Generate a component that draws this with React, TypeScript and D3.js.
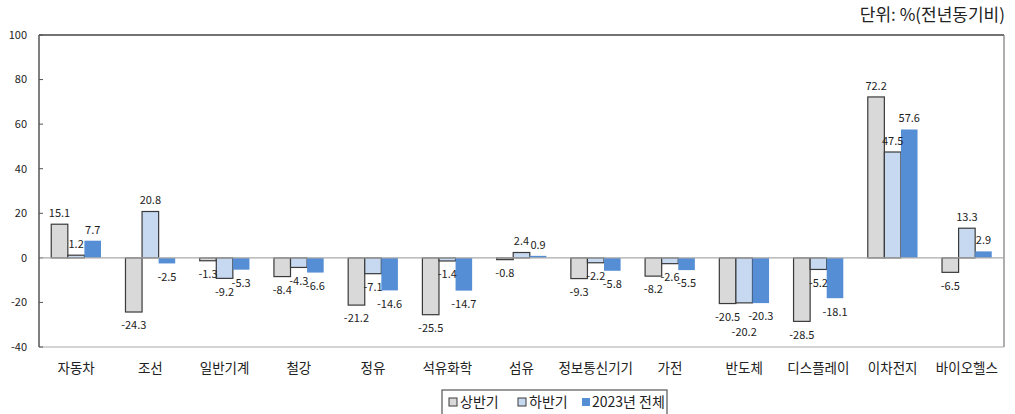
import React from "react";
import * as d3 from "d3";

const categories = ["자동차", "조선", "일반기계", "철강", "정유", "석유화학", "섬유", "정보통신기기", "가전", "반도체", "디스플레이", "이차전지", "바이오헬스"];
const firstHalf = [15.1, -24.3, -1.3, -8.4, -21.2, -25.5, -0.8, -9.3, -8.2, -20.5, -28.5, 72.2, -6.5];
const secondHalf = [1.2, 20.8, -9.2, -4.3, -7.1, -1.4, 2.4, -2.2, -2.6, -20.2, -5.2, 47.5, 13.3];
const fullYear = [7.7, -2.5, -5.3, -6.6, -14.6, -14.7, 0.9, -5.8, -5.5, -20.3, -18.1, 57.6, 2.9];
const seriesNames = ["상반기", "하반기", "2023년 전체"];
const yTicks = [-40, -20, 0, 20, 40, 60, 80, 100];

const W = 1015, H = 414;
const M = { left: 39, right: 1004, top: 35, bottom: 347 };
const FONT = "'Noto Sans CJK KR', 'Noto Sans', sans-serif";

const fills = ["#d9d9d9", "#c6d9f1", "#558ed5"];
const strokes = ["#3a3a3a", "#3a3a3a", "none"];

export default function App() {
  const x = d3.scaleBand<string>().domain(categories).range([M.left, M.right]).paddingInner(0.33).paddingOuter(0.165);
  const xs = d3.scaleBand<number>().domain([0, 1, 2]).range([0, x.bandwidth()]);
  const y = d3.scaleLinear().domain([-40, 100]).range([M.bottom, M.top]);
  const series = [firstHalf, secondHalf, fullYear];

  const extraDy: Record<string, number> = { "9-1": 16 };

  return (
    <svg width={W} height={H} style={{ position: "absolute", left: 0, top: 0 }} fontFamily={FONT}>
      <rect x={0} y={0} width={W} height={H} fill="#fff" />
      <text x={1005} y={21} textAnchor="end" fontSize={17} fill="#222">단위: %(전년동기비)</text>
      {/* plot frame */}
      <line x1={M.left} x2={M.right} y1={M.top} y2={M.top} stroke="#444" strokeWidth={1.5} />
      <line x1={M.right} x2={M.right} y1={M.top} y2={M.bottom} stroke="#777" strokeWidth={1.2} />
      <line x1={M.left} x2={M.right} y1={M.bottom} y2={M.bottom} stroke="#aaa" strokeWidth={1.2} />
      {/* y ticks */}
      {yTicks.map((t) => (
        <g key={t}>
          <line x1={M.left} x2={M.left + 4} y1={y(t)} y2={y(t)} stroke="#555" />
          <text x={27} y={y(t)} dy="0.35em" textAnchor="end" fontSize={11} fill="#222">{t}</text>
        </g>
      ))}
      {/* bars */}
      {categories.map((c, i) => (
        <g key={c}>
          {series.map((s, k) => {
            const v = s[i];
            const bx = (x(c) as number) + (xs(k) as number);
            const y0 = y(Math.max(0, v));
            const h = Math.abs(y(v) - y(0));
            return (
              <rect key={k} x={bx} y={y0} width={xs.bandwidth()} height={h} fill={fills[k]} stroke={strokes[k]} strokeWidth={1.2} />
            );
          })}
        </g>
      ))}
      {/* zero line */}
      <line x1={M.left} x2={M.right} y1={y(0)} y2={y(0)} stroke="#aaa" strokeWidth={1.2} />
      <line x1={M.left} x2={M.left} y1={M.top} y2={M.bottom} stroke="#555" strokeWidth={1.5} />
      {/* labels */}
      {categories.map((c, i) => (
        <g key={c + "l"}>
          {series.map((s, k) => {
            const v = s[i];
            const cx = (x(c) as number) + (xs(k) as number) + xs.bandwidth() / 2;
            const ly = v >= 0 ? y(v) - 11 : y(v) + 13.5 + (extraDy[`${i}-${k}`] || 0);
            return (
              <text key={k} x={cx} y={ly} dy="0.35em" textAnchor="middle" fontSize={11} fill="#222">{v.toFixed(1)}</text>
            );
          })}
          <text x={(x(c) as number) + x.bandwidth() / 2} y={368} dy="0.35em" textAnchor="middle" fontSize={13.5} fill="#222">{c}</text>
        </g>
      ))}
      {/* legend */}
      <rect x={442} y={390} width={225} height={30} fill="#fff" stroke="#555" strokeWidth={1.2} />
      {[
        { mx: 449, tx: 460 },
        { mx: 518, tx: 529 },
        { mx: 582, tx: 592 },
      ].map((p, k) => (
        <g key={k}>
          <rect x={p.mx} y={398} width={8} height={8} fill={fills[k]} stroke={strokes[k]} strokeWidth={1} />
          <text x={p.tx} y={402} dy="0.35em" fontSize={14} fill="#222">{seriesNames[k]}</text>
        </g>
      ))}
    </svg>
  );
}
